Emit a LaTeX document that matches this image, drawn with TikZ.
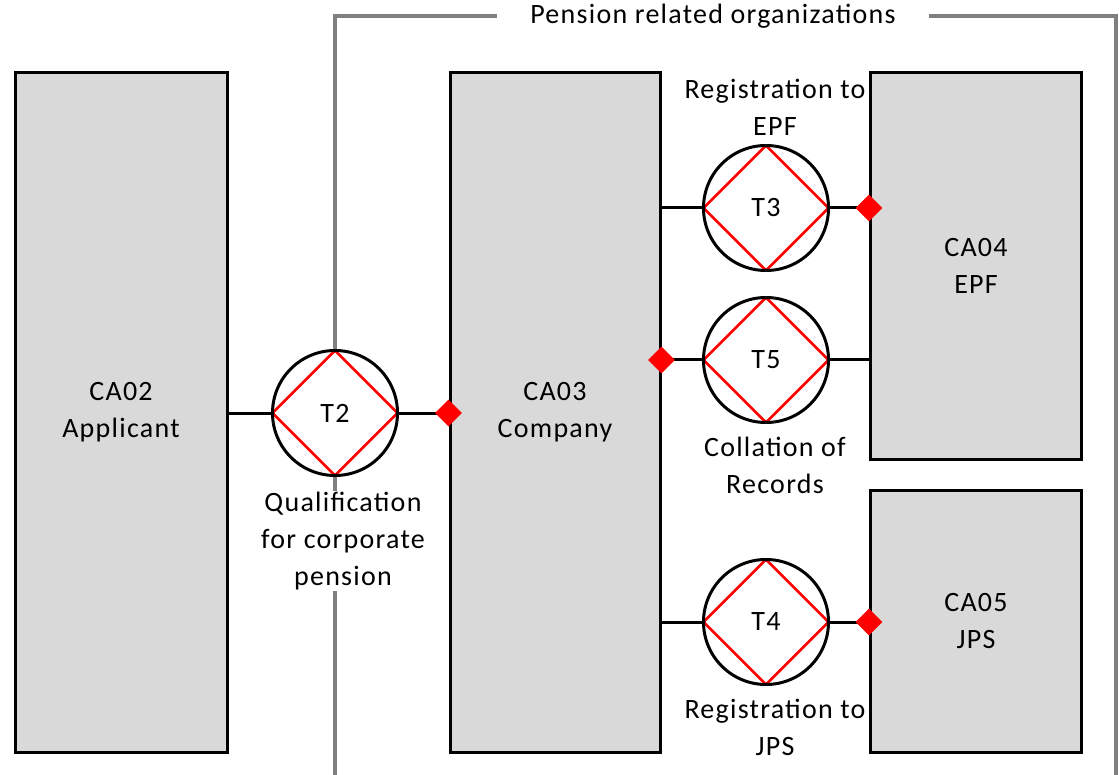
\documentclass[tikz,border=0pt]{standalone}
\usepackage{fontspec}
\setmainfont{Carlito}[LetterSpace=4.5]
\usepackage{tikz}
\usetikzlibrary{shapes.geometric}
\usetikzlibrary{calc}
\definecolor{boxgray}{RGB}{217,217,217}
\definecolor{framegray}{RGB}{128,128,128}
\tikzset{
  actor/.style={draw, line width=3pt, fill=boxgray, align=center, inner sep=0pt},
  trans/.style={circle, draw, line width=3pt, fill=white, minimum size=125pt, inner sep=0pt,
    path picture={\draw[red, line width=2.8pt] (path picture bounding box.north) -- (path picture bounding box.east)
      -- (path picture bounding box.south) -- (path picture bounding box.west) -- cycle;}},
  rdot/.style={diamond, fill=red, minimum size=27pt, inner sep=0pt},
  tlabel/.style={align=center, fill=white, inner sep=1pt},
  link/.style={line width=3pt},
}

\begin{document}
\begin{tikzpicture}[x=1pt, y=-1pt, every node/.style={font=\fontsize{28}{37}\selectfont}]
    \useasboundingbox (0,0) rectangle (1119,775);
    % pension related organizations frame
    \draw [framegray, line width=4pt] (335,775) -- (335,16) -- (1116,16) -- (1116,777);
    \node [fill=white, inner xsep=33pt, inner ysep=2pt] (org) at (713,16) {Pension related organizations};

    \node [actor, minimum width=212pt, minimum height=680pt] (ca02) at (121,412.5) {CA02\\Applicant};
    \node [actor, minimum width=210pt, minimum height=680pt] (ca03) at (555,412.5) {CA03\\Company};
    \node [actor, minimum width=211pt, minimum height=386pt] (ca04) at (976,266) {CA04\\EPF};
    \node [actor, minimum width=211pt, minimum height=262pt] (ca05) at (976,621.5) {CA05\\JPS};

    \node [trans] (t2) at (335,413) {T2};
    \node [trans] (t3) at (766,208) {T3};
    \node [trans] (t5) at (766,360) {T5};
    \node [trans] (t4) at (766,622) {T4};

    \node [tlabel] (l2) at (343,541) {Qualification\\for corporate\\pension};
    \node [tlabel] (l3) at (775,107) {Registration to\\EPF};
    \node [tlabel] (l5) at (775,465) {Collation of\\Records};
    \node [tlabel] (l4) at (775,727) {Registration to\\JPS};

    \draw [link] (ca02.east |- t2) -- (t2);
    \draw [link] (t2) -- (t2 -| ca03.west);
    \draw [link] (ca03.east |- t3) -- (t3);
    \draw [link] (t3) -- (t3 -| ca04.west);
    \draw [link] (ca03.east |- t5) -- (t5);
    \draw [link] (t5) -- (t5 -| ca04.west);
    \draw [link] (ca03.east |- t4) -- (t4);
    \draw [link] (t4) -- (t4 -| ca05.west);

    \node [rdot] (d2) at (t2 -| ca03.west) {};
    \node [rdot] (d3) at (t3 -| ca04.west) {};
    \node [rdot] (d5) at (t5 -| ca03.east) {};
    \node [rdot] (d4) at (t4 -| ca05.west) {};
  \end{tikzpicture}
\end{document}
